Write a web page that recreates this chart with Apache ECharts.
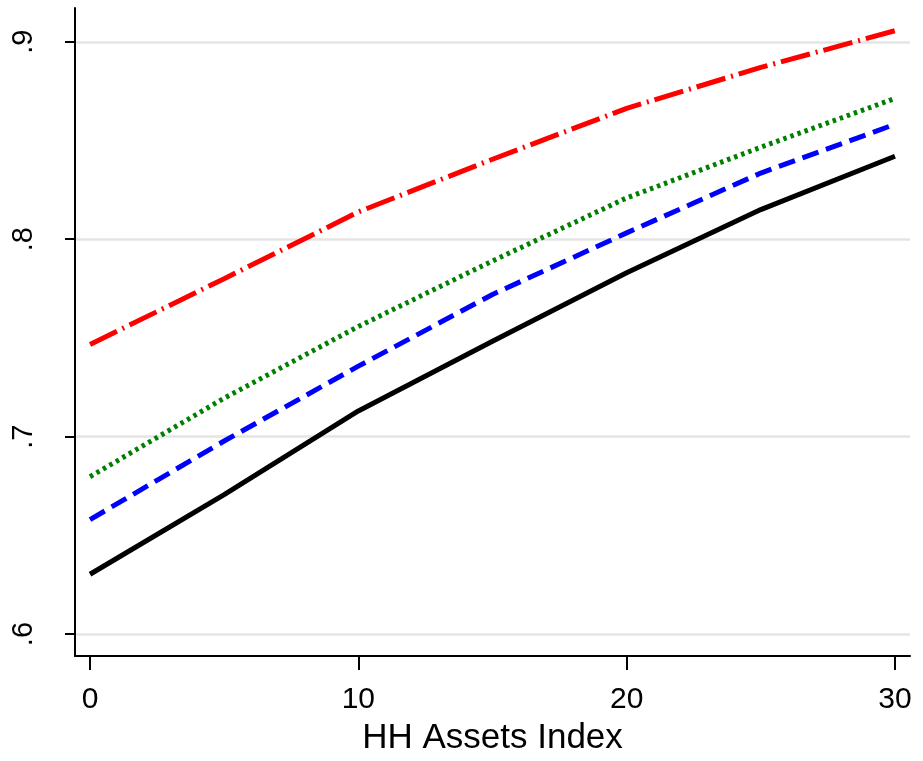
<!DOCTYPE html>
<html>
<head>
<meta charset="utf-8">
<script src="https://cdn.jsdelivr.net/npm/echarts@6/dist/echarts.min.js"></script>
<style>html,body{margin:0;padding:0;background:#fff}#c{width:923px;height:761px}</style>
</head>
<body>
<div id="c"></div>
<script>
const xValues = [0, 5, 10, 15, 20, 25, 30];
const seriesBlack = [0.6303, 0.6706, 0.7130, 0.7483, 0.7830, 0.8150, 0.8420];
const seriesBlue  = [0.6580, 0.6978, 0.7357, 0.7720, 0.8032, 0.8335, 0.8582];
const seriesGreen = [0.6797, 0.7195, 0.7558, 0.7890, 0.8209, 0.8466, 0.8713];
const seriesRed   = [0.7467, 0.7800, 0.8138, 0.8405, 0.8663, 0.8870, 0.9056];
const xTicks = [0, 10, 20, 30];
const yTicks = [0.6, 0.7, 0.8, 0.9];
const yTickLabels = ['.6', '.7', '.8', '.9'];

const FONT = '"Liberation Sans Narrow", "Arial Narrow", "Liberation Sans", sans-serif';
const pairs = arr => xValues.map((x, i) => [x, arr[i]]);

const chart = echarts.init(document.getElementById('c'));
chart.setOption({
  animation: false,
  backgroundColor: '#fff',
  grid: { left: 75, right: 13, top: 8, bottom: 102, containLabel: false },
  xAxis: {
    type: 'value', min: -0.56, max: 30.56,
    name: 'HH Assets Index', nameLocation: 'middle', nameGap: 65,
    nameTextStyle: { fontFamily: FONT, fontSize: 35, color: '#000' },
    axisLine: { onZero: false, lineStyle: { color: '#000', width: 2 } },
    axisTick: { show: true, length: 14, lineStyle: { color: '#000', width: 2 }, customValues: xTicks },
    axisLabel: { fontFamily: FONT, fontSize: 30, color: '#000', margin: 29, customValues: xTicks },
    splitLine: { show: false }
  },
  yAxis: {
    type: 'value', min: 0.5889, max: 0.9171,
    axisLine: { show: true, onZero: false, lineStyle: { color: '#000', width: 2 } },
    axisTick: { show: true, length: 10, lineStyle: { color: '#000', width: 2 }, customValues: yTicks },
    axisLabel: { fontFamily: FONT, fontSize: 29, color: '#000', rotate: 90, margin: 37,
      customValues: yTicks,
      formatter: v => { const i = yTicks.findIndex(t => Math.abs(t - v) < 1e-6); return i >= 0 ? yTickLabels[i] : ''; } },
    splitLine: { show: false }
  },
  series: [
    { type: 'line', data: pairs(seriesRed), symbol: 'none', silent: true,
      lineStyle: { color: '#ff0000', width: 5, type: [30, 6, 2, 6] },
      markLine: { silent: true, symbol: 'none', label: { show: false },
        lineStyle: { color: '#e4e4e4', width: 2.5, type: 'solid' },
        data: yTicks.map(v => ({ yAxis: v })), z: 0 } },
    { type: 'line', data: pairs(seriesGreen), symbol: 'none', silent: true,
      lineStyle: { color: '#007f00', width: 5, type: [3.5, 4] } },
    { type: 'line', data: pairs(seriesBlue), symbol: 'none', silent: true,
      lineStyle: { color: '#0000ff', width: 5, type: [17, 8] } },
    { type: 'line', data: pairs(seriesBlack), symbol: 'none', silent: true,
      lineStyle: { color: '#000000', width: 5, type: 'solid' } }
  ]
});
</script>
</body>
</html>
